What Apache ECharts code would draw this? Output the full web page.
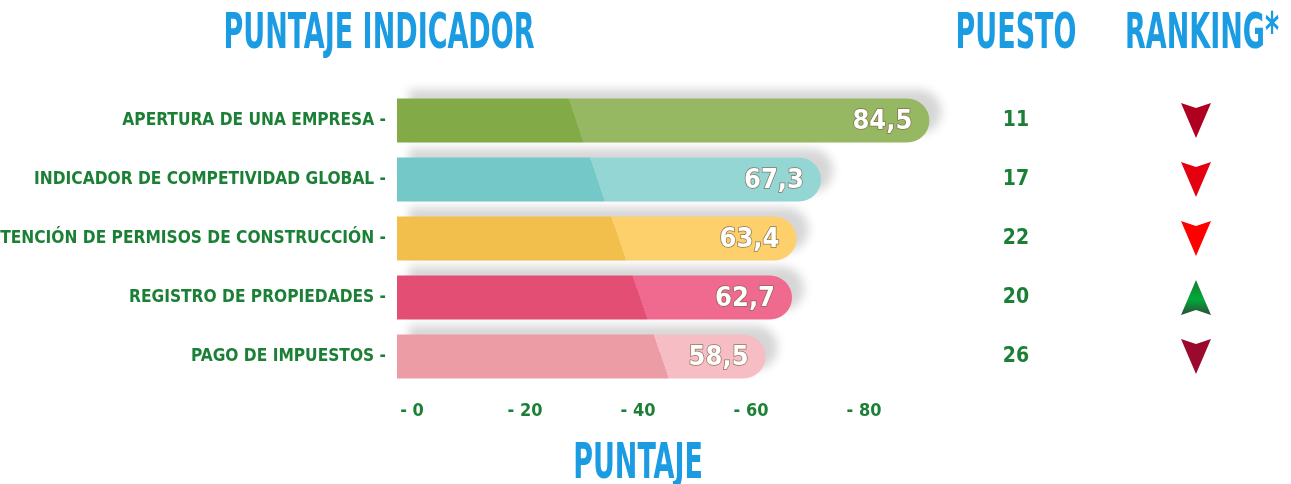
<!DOCTYPE html>
<html>
<head>
<meta charset="utf-8">
<script src="https://cdn.jsdelivr.net/npm/echarts@6/dist/echarts.min.js"></script>
<style>
html, body { margin: 0; padding: 0; background: #fff; }
#chart { width: 1291px; height: 484px; }
</style>
</head>
<body>
<div id="chart"></div>
<script>
// datos del grafico
var categorias = ['APERTURA DE UNA EMPRESA', 'INDICADOR DE COMPETIVIDAD GLOBAL', 'OBTENCIÓN DE PERMISOS DE CONSTRUCCIÓN', 'REGISTRO DE PROPIEDADES', 'PAGO DE IMPUESTOS'];
var puntajes = [84.5, 67.3, 63.4, 62.7, 58.5];
var puestos = [11, 17, 22, 20, 26];
var tendencias = ['baja', 'baja', 'baja', 'sube', 'baja'];
var ticks = [0, 20, 40, 60, 80];

// estilos
var FUENTE = '"DejaVu Sans Condensed", sans-serif';
var AZUL = '#1a9be2';
var VERDE = '#1b8036';
var coloresOscuros = ['#82ab48', '#74c8c8', '#f2bf4c', '#e34e74', '#ec9ca5'];
var coloresClaros = ['#97b862', '#94d6d4', '#fdd06b', '#f0698f', '#f7bdc5'];
var coloresFlecha = ['#b0001f', '#e4000e', '#ff0000', '#1c8a36', '#9a0a2c'];
var TOP = 91, ALTO = 295, BANDA = ALTO / categorias.length;

function corte(i) {
    // borde diagonal entre el tono oscuro y el claro
    var cx = 576 + 21.3 * i, cy = TOP + BANDA * (i + 0.5);
    var ux = 0.9465 * 40, uy = -0.3227 * 40;
    return {
        type: 'linear', global: true,
        x: cx - ux, y: cy - uy, x2: cx + ux, y2: cy + uy,
        colorStops: [
            { offset: 0, color: coloresOscuros[i] },
            { offset: 0.5, color: coloresOscuros[i] },
            { offset: 0.5, color: coloresClaros[i] },
            { offset: 1, color: coloresClaros[i] }
        ]
    };
}

function colorFlecha(i) {
    if (tendencias[i] === 'sube') {
        return {
            type: 'linear', x: 0, y: 0, x2: 0, y2: 1,
            colorStops: [
                { offset: 0, color: '#2d4d3a' },
                { offset: 0.45, color: '#00a93a' },
                { offset: 1, color: '#1d7a34' }
            ]
        };
    }
    return coloresFlecha[i];
}

function titulo(texto, x, y) {
    return {
        type: 'text', x: x, y: y, scaleX: 0.6,
        style: {
            text: texto, fill: AZUL, align: 'center', verticalAlign: 'middle',
            fontSize: 50, fontWeight: 'bold', fontFamily: FUENTE
        }
    };
}

const myChart = echarts.init(document.getElementById('chart'));
const option = {
    animation: false,
    graphic: [
        titulo('PUNTAJE INDICADOR', 379, 35),
        titulo('PUESTO', 1016, 35),
        titulo('RANKING*', 1202, 35),
        titulo('PUNTAJE', 638, 465)
    ],
    grid: [
        { left: 397, top: TOP, width: 567, height: ALTO, outerBoundsMode: 'none' },
        { left: 412, top: TOP, width: 452, height: ALTO, outerBoundsMode: 'none' },
        { left: 1180, top: TOP, width: 32, height: ALTO, outerBoundsMode: 'none' }
    ],
    xAxis: [
        { gridIndex: 0, type: 'value', min: 0, max: 90, show: false },
        {
            gridIndex: 1, type: 'value',
            min: ticks[0], max: ticks[ticks.length - 1], interval: ticks[1] - ticks[0],
            axisLine: { show: false }, axisTick: { show: false }, splitLine: { show: false },
            axisLabel: {
                formatter: '- {value}', margin: 16, color: VERDE,
                fontSize: 18, fontWeight: 'bold', fontFamily: FUENTE
            }
        },
        { gridIndex: 2, type: 'category', data: ['ranking'], show: false }
    ],
    yAxis: [
        {
            gridIndex: 0, type: 'category', inverse: true, data: categorias,
            axisLine: { show: false }, axisTick: { show: false },
            axisLabel: {
                formatter: '{value} -', margin: 11, color: VERDE,
                fontSize: 17.2, fontWeight: 'bold', fontFamily: FUENTE
            }
        },
        { gridIndex: 1, type: 'value', show: false },
        { gridIndex: 2, type: 'category', inverse: true, data: categorias, show: false },
        {
            gridIndex: 0, type: 'category', inverse: true, position: 'right',
            data: puestos.map(String),
            axisLine: { show: false }, axisTick: { show: false },
            axisLabel: {
                margin: 52, align: 'center', color: VERDE,
                fontSize: 21, fontWeight: 'bold', fontFamily: FUENTE
            }
        }
    ],
    series: [
        {
            type: 'bar', xAxisIndex: 0, yAxisIndex: 0,
            barWidth: 44,
            data: puntajes.map(function (v, i) {
                return { value: v, itemStyle: { color: corte(i) } };
            }),
            itemStyle: {
                borderRadius: [0, 22, 22, 0],
                shadowColor: 'rgba(0,0,0,0.16)', shadowBlur: 10,
                shadowOffsetX: 12, shadowOffsetY: -9
            },
            label: {
                show: true, position: 'insideRight', offset: [-12, 1],
                formatter: function (p) { return String(p.value).replace('.', ','); },
                color: '#fff', fontSize: 27, fontWeight: 'bold', fontFamily: FUENTE,
                textBorderColor: 'rgba(120,100,70,0.8)', textBorderWidth: 1.5
            }
        },
        {
            type: 'scatter', xAxisIndex: 2, yAxisIndex: 2,
            symbol: 'path://M0,0L50,16L100,0L50,110Z',
            symbolSize: [30, 35],
            data: tendencias.map(function (t, i) {
                return {
                    value: [0, i],
                    symbolRotate: t === 'sube' ? 180 : 0,
                    itemStyle: { color: colorFlecha(i), opacity: 1 }
                };
            })
        }
    ]
};
myChart.setOption(option);
</script>
</body>
</html>
